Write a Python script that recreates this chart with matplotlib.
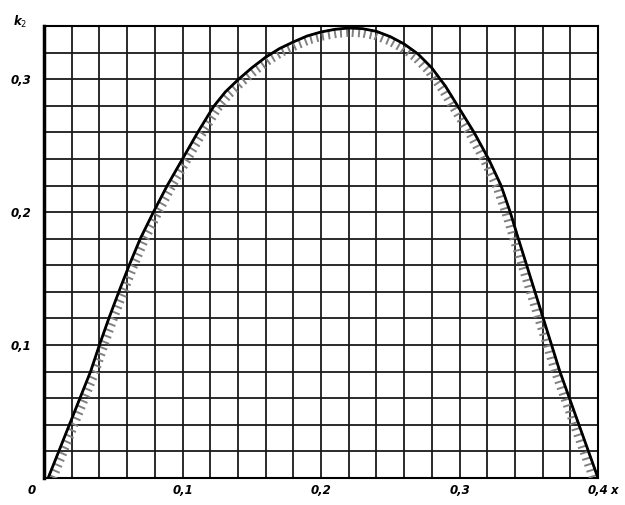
import matplotlib
matplotlib.use("Agg")
import matplotlib.pyplot as plt
import matplotlib.patheffects as pe
import numpy as np

# curve (k2 against x)
x = [0.003, 0.0336, 0.040, 0.0468, 0.054, 0.0615, 0.0695, 0.079, 0.089, 0.100,
     0.111, 0.1225, 0.131, 0.140, 0.150, 0.160, 0.170, 0.180, 0.190, 0.200,
     0.210, 0.220, 0.230, 0.240, 0.250, 0.260, 0.270, 0.280, 0.290, 0.2986,
     0.3105, 0.321, 0.330, 0.3366, 0.3425, 0.3485, 0.3545, 0.3605, 0.3665,
     0.3725, 0.400]
k2 = [0.0, 0.08, 0.10, 0.12, 0.14, 0.16, 0.18, 0.20, 0.22, 0.24,
      0.26, 0.2795, 0.2905, 0.2995, 0.3085, 0.3165, 0.323, 0.328, 0.3325, 0.3355,
      0.3375, 0.3385, 0.338, 0.336, 0.332, 0.3265, 0.319, 0.3085, 0.2945, 0.28,
      0.26, 0.24, 0.22, 0.20, 0.18, 0.16, 0.14, 0.12, 0.10,
      0.08, 0.0]

x_ticks = [0.1, 0.2, 0.3, 0.4]
x_labels = ["0,1", "0,2", "0,3", "0,4"]
y_ticks = [0.1, 0.2, 0.3]
y_labels = ["0,1", "0,2", "0,3"]

fig = plt.figure(figsize=(6.25, 5.05), dpi=100)
ax = fig.add_axes([0.0704, 0.0535, 0.8864, 0.895])

ax.set_xlim(0, 0.4)
ax.set_ylim(0, 0.34)

ax.set_xticks(np.arange(0, 0.4001, 0.02), minor=True)
ax.set_yticks(np.arange(0, 0.3401, 0.02), minor=True)
ax.set_xticks(x_ticks)
ax.set_xticklabels(x_labels)
ax.set_yticks(y_ticks)
ax.set_yticklabels(y_labels)
ax.grid(which="both", color="#1a1a1a", linewidth=1.3)
ax.tick_params(which="both", length=0)
ax.tick_params(axis="x", pad=4)
ax.tick_params(axis="y", pad=9)
for lab in ax.get_xticklabels() + ax.get_yticklabels():
    lab.set_fontstyle("italic")
    lab.set_fontweight("bold")
    lab.set_fontsize(8.5)

for s in ax.spines.values():
    s.set_linewidth(1.5)
ax.spines["left"].set_linewidth(2.5)

# hatched side of the curve
ax.plot(x, k2, color="#808080", linewidth=1.4, zorder=3,
        path_effects=[pe.withTickedStroke(angle=-92, spacing=4.5, length=1.25)])
ax.plot(x, k2, color="black", linewidth=2.0, zorder=4)

ax.text(-0.009, -0.0095, "0", fontsize=8.5, fontstyle="italic", fontweight="bold",
        ha="center", va="center")
ax.text(0.4115, -0.0095, "x", fontsize=8.5, fontstyle="italic", fontweight="bold",
        ha="center", va="center", clip_on=False)
ax.text(-0.0173, 0.343, "k$_2$", fontsize=8.5, fontstyle="italic", fontweight="bold",
        ha="center", va="center")

fig.savefig("out.png", dpi=100)
